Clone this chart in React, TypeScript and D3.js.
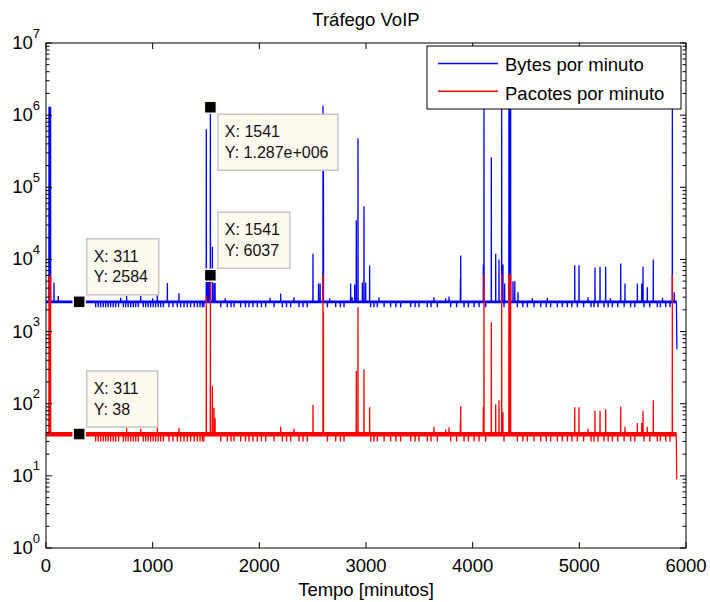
import React from "react";
import * as d3 from "d3";

const WIDTH = 710;
const HEIGHT = 602;

const titleText = "Tráfego VoIP";
const xLabelText = "Tempo [minutos]";
const xDomain = [0, 6000];
const yDomain = [1, 1e7];
const xTickValues = [0, 1000, 2000, 3000, 4000, 5000, 6000];
const yDecadeExponents = [0, 1, 2, 3, 4, 5, 6, 7];
const yMinorMultipliers = [2, 3, 4, 5, 6, 7, 8, 9];

const seriesNames = ["Bytes por minuto", "Pacotes por minuto"];
const seriesColors = ["#0000ff", "#ff0000"];
const baselineLevels = [2584, 38];
const baselineBandLow = [2460, 35];
const baselineBandHigh = [2700, 40.6];
const dipLevels = [2170, 30];
const seriesStartMinute = [1, 1];
const seriesBaselineEndMinute = [5910, 5909];
const bytesFinalPoint: [number, number] = [5915, 570];
const packetsFinalPoint: [number, number] = [5913, 9];

// Bytes por minuto: spikes [minute, value]
const bytesSpikes: [number, number][] = [
  [28, 1300000], [33, 1320000], [38, 1280000], [43, 1300000],
  [75, 4800], [115, 3100],
  [1044, 8300], [1138, 4700],
  [1503, 640000], [1510, 6000], [1520, 5600], [1530, 6200], [1541, 1287000],
  [1560, 15000], [1575, 4700], [1585, 4700],
  [2503, 12000], [2555, 4650], [2570, 4650],
  [2597, 1360000], [2599, 170000], [2601, 170000],
  [2856, 4650], [2870, 3000], [2894, 4500], [2909, 35000], [2925, 480000],
  [2966, 4800], [2981, 54500], [2997, 4800], [3034, 8250],
  [3885, 5400], [3888, 11300],
  [4100, 8500], [4106, 1350000], [4175, 260000], [4216, 12000], [4247, 10000],
  [4272, 1350000], [4284, 8500], [4300, 4650],
  [4340, 1350000], [4345, 1350000], [4350, 1350000], [4356, 1350000],
  [4378, 5000], [4395, 5000], [4425, 3500],
  [4957, 8300], [4997, 8300],
  [5147, 7700], [5194, 7900], [5247, 7900], [5388, 8800], [5428, 4650],
  [5544, 4650], [5585, 4650], [5597, 7900], [5637, 4100], [5693, 10000],
  [5872, 1350000], [5890, 3500],
];

// Pacotes por minuto: spikes [minute, value]
const packetsSpikes: [number, number][] = [
  [28, 6000], [33, 6100], [38, 5900], [43, 6000],
  [1044, 93],
  [1503, 3100], [1541, 6037], [1560, 176], [1575, 88], [1585, 63],
  [2503, 96],
  [2597, 6200], [2599, 1870], [2601, 1870],
  [2909, 284], [2925, 2180], [2981, 300], [3034, 89],
  [3885, 61], [3888, 92],
  [4100, 89], [4106, 6200], [4175, 1350], [4216, 98], [4247, 112],
  [4272, 6200], [4284, 76],
  [4340, 6200], [4345, 6200], [4350, 6200], [4356, 6200],
  [4957, 89], [4997, 89],
  [5147, 80], [5194, 80], [5247, 83], [5388, 91], [5428, 48],
  [5544, 54], [5585, 54], [5597, 80], [5637, 48], [5693, 112],
  [5872, 6200],
];

// small bumps above the baseline [minute, value]
const bytesBumps: [number, number][] = [
  [700, 2950], [756, 3100], [888, 3100], [1000, 2900], [1247, 3400],
  [1680, 2900], [2100, 2950], [2200, 3370], [2325, 3000], [2660, 2900],
  [3122, 3000], [3637, 3000], [3747, 2900], [3778, 3050], [4560, 2900],
  [4700, 2950], [5081, 3000], [5290, 2900], [5780, 2950],
];
const packetsBumps: [number, number][] = [
  [756, 48], [888, 45], [1247, 46], [2200, 48], [2325, 45],
  [3637, 48], [3747, 44], [3778, 47], [5081, 45],
];

// short drops below the baseline (minutes)
const dipMinutes: number[] = [
  466, 490, 513, 537, 560, 583, 606, 630, 653, 680, 725, 747, 770, 794, 818,
  841, 865, 912, 935, 958, 981, 1005, 1028, 1052, 1075, 1100, 1153, 1190,
  1231, 1262, 1294, 1325, 1356, 1390, 1419, 1444, 1466, 1480, 1638, 1700,
  1735, 1763, 1825, 1870, 1903, 1940, 1981, 2020, 2059, 2138, 2216, 2255,
  2294, 2372, 2410, 2450, 2638, 2716, 2760, 2794, 3044, 3075, 3106, 3170,
  3231, 3280, 3325, 3419, 3460, 3497, 3575, 3610, 3669, 3794, 3850, 3919,
  3960, 4013, 4060, 4122, 4294, 4419, 4470, 4513, 4575, 4638, 4690, 4731,
  4794, 4840, 4888, 4930, 4981, 5040, 5110, 5138, 5175, 5231, 5270, 5309,
  5360, 5420, 5481, 5520, 5606, 5660, 5731, 5760, 5810, 5850,
];

const tipMinutes = [1541, 1541, 311, 311];
const tipValues = [1287000, 6037, 2584, 38];
const tipLabels = ["1.287e+006", "6037", "2584", "38"];
const tipBelow = [true, false, false, false];

const PLOT = { left: 46, right: 686, top: 43, bottom: 548 };
const FONT = "'Liberation Sans', Arial, Helvetica, sans-serif";

function buildSeries(
  spikes: [number, number][],
  bumps: [number, number][],
  dipValue: number,
  base: number,
  start: number,
  baseEnd: number,
  finalPoint: [number, number]
): [number, number][] {
  const events = new Map<number, number>();
  dipMinutes.forEach((m) => events.set(m, dipValue));
  bumps.forEach(([m, v]) => events.set(m, v));
  spikes.forEach(([m, v]) => events.set(m, v));
  const sorted = Array.from(events.entries()).sort((a, b) => a[0] - b[0]);
  const pts: [number, number][] = [[start, base]];
  sorted.forEach(([m, v], i) => {
    const last = pts[pts.length - 1];
    if (last[0] < m - 1) pts.push([m - 1, base]);
    pts.push([m, v]);
    const next = sorted[i + 1];
    if (!next || next[0] > m + 1) pts.push([m + 1, base]);
  });
  pts.push([baseEnd, base]);
  pts.push(finalPoint);
  return pts;
}

export default function App() {
  const x = d3.scaleLinear().domain(xDomain).range([PLOT.left, PLOT.right]);
  const y = d3.scaleLog().domain(yDomain).range([PLOT.bottom, PLOT.top]);

  const bytesData = buildSeries(
    bytesSpikes, bytesBumps, dipLevels[0], baselineLevels[0],
    seriesStartMinute[0], seriesBaselineEndMinute[0], bytesFinalPoint
  );
  const packetsData = buildSeries(
    packetsSpikes, packetsBumps, dipLevels[1], baselineLevels[1],
    seriesStartMinute[1], seriesBaselineEndMinute[1], packetsFinalPoint
  );
  const allData = [bytesData, packetsData];

  const line = d3
    .line<[number, number]>()
    .x((d) => x(d[0]))
    .y((d) => y(d[1]));

  const bands = [0, 1].map((i) =>
    d3
      .area<number>()
      .x((m) => x(m))
      .y0(() => y(baselineBandLow[i]))
      .y1(() => y(baselineBandHigh[i]))([seriesStartMinute[i], seriesBaselineEndMinute[i]])
  );

  const majorLen = 6;
  const minorLen = 3.5;

  const minorTicks: number[] = [];
  yDecadeExponents.slice(0, -1).forEach((e) =>
    yMinorMultipliers.forEach((m) => minorTicks.push(m * Math.pow(10, e)))
  );

  const legendX = PLOT.right - 259;
  const legendY = PLOT.top + 3;

  return (
    <svg width={WIDTH} height={HEIGHT} style={{ display: "block", position: "absolute", left: 0, top: 0 }}>
      <rect x={0} y={0} width={WIDTH} height={HEIGHT} fill="#ffffff" />
      <text x={(PLOT.left + PLOT.right) / 2} y={26} textAnchor="middle" fontFamily={FONT} fontSize={18.5} fill="#000">
        {titleText}
      </text>

      <g>
        {[0, 1].map((i) => (
          <g key={i}>
            <path d={bands[i] || ""} fill={seriesColors[i]} stroke="none" />
            <path d={line(allData[i]) || ""} fill="none" stroke={seriesColors[i]} strokeWidth={1.3} />
          </g>
        ))}
      </g>

      {/* axes box */}
      <rect
        x={PLOT.left}
        y={PLOT.top}
        width={PLOT.right - PLOT.left}
        height={PLOT.bottom - PLOT.top}
        fill="none"
        stroke="#000"
        strokeWidth={1}
      />
      {xTickValues.map((t) => (
        <g key={"xt" + t}>
          <line x1={x(t)} x2={x(t)} y1={PLOT.bottom} y2={PLOT.bottom - majorLen} stroke="#000" />
          <line x1={x(t)} x2={x(t)} y1={PLOT.top} y2={PLOT.top + majorLen} stroke="#000" />
          <text x={x(t)} y={572} textAnchor="middle" fontFamily={FONT} fontSize={18.5} fill="#000">
            {t}
          </text>
        </g>
      ))}
      {yDecadeExponents.map((e) => {
        const v = Math.pow(10, e);
        const yy = y(v);
        return (
          <g key={"yt" + e}>
            <line x1={PLOT.left} x2={PLOT.left + majorLen} y1={yy} y2={yy} stroke="#000" />
            <line x1={PLOT.right} x2={PLOT.right - majorLen} y1={yy} y2={yy} stroke="#000" />
            <text x={40} y={yy + 6} textAnchor="end" fontFamily={FONT} fontSize={18.5} fill="#000">
              <tspan>10</tspan>
              <tspan dy={-11.5} fontSize={13}>{e}</tspan>
            </text>
          </g>
        );
      })}
      {minorTicks.map((v, i) => (
        <g key={"ym" + i}>
          <line x1={PLOT.left} x2={PLOT.left + minorLen} y1={y(v)} y2={y(v)} stroke="#000" />
          <line x1={PLOT.right} x2={PLOT.right - minorLen} y1={y(v)} y2={y(v)} stroke="#000" />
        </g>
      ))}
      <text x={(PLOT.left + PLOT.right) / 2} y={596} textAnchor="middle" fontFamily={FONT} fontSize={18.5} fill="#000">
        {xLabelText}
      </text>

      {/* legend */}
      <g>
        <rect x={legendX} y={legendY} width={254} height={63} fill="#fff" stroke="#000" strokeWidth={1} />
        {seriesNames.map((name, i) => (
          <g key={name}>
            <line
              x1={legendX + 11}
              x2={legendX + 71}
              y1={legendY + 17.5 + i * 27.7}
              y2={legendY + 17.5 + i * 27.7}
              stroke={seriesColors[i]}
              strokeWidth={1.5}
            />
            <text x={legendX + 78} y={legendY + 25.3 + i * 28.2} fontFamily={FONT} fontSize={18.5} fill="#000">
              {name}
            </text>
          </g>
        ))}
      </g>

      {/* data tips */}
      {tipMinutes.map((m, i) => {
        const cx = x(m);
        const cy = y(tipValues[i]);
        const l1 = "X: " + m;
        const l2 = "Y: " + tipLabels[i];
        const chars = Math.max(l1.length, l2.length);
        const w = Math.max(71, chars * 8 + 16);
        const h = 56;
        const bx = cx + 7.5;
        const by = tipBelow[i] ? cy + 7 : cy - 7 - h;
        return (
          <g key={"tip" + i}>
            <rect x={bx} y={by} width={w} height={h} fill="#fffaf0" stroke="#c4c4c4" strokeWidth={1.5} />
            <text x={bx + 7} y={by + 23} fontFamily={FONT} fontSize={16} fill="#111">
              {l1}
            </text>
            <text x={bx + 7} y={by + 43.5} fontFamily={FONT} fontSize={16} fill="#111">
              {l2}
            </text>
            <rect x={cx - 6} y={cy - 6} width={12} height={12} fill="#000" stroke="#fffaf0" strokeWidth={1.5} />
          </g>
        );
      })}
    </svg>
  );
}
